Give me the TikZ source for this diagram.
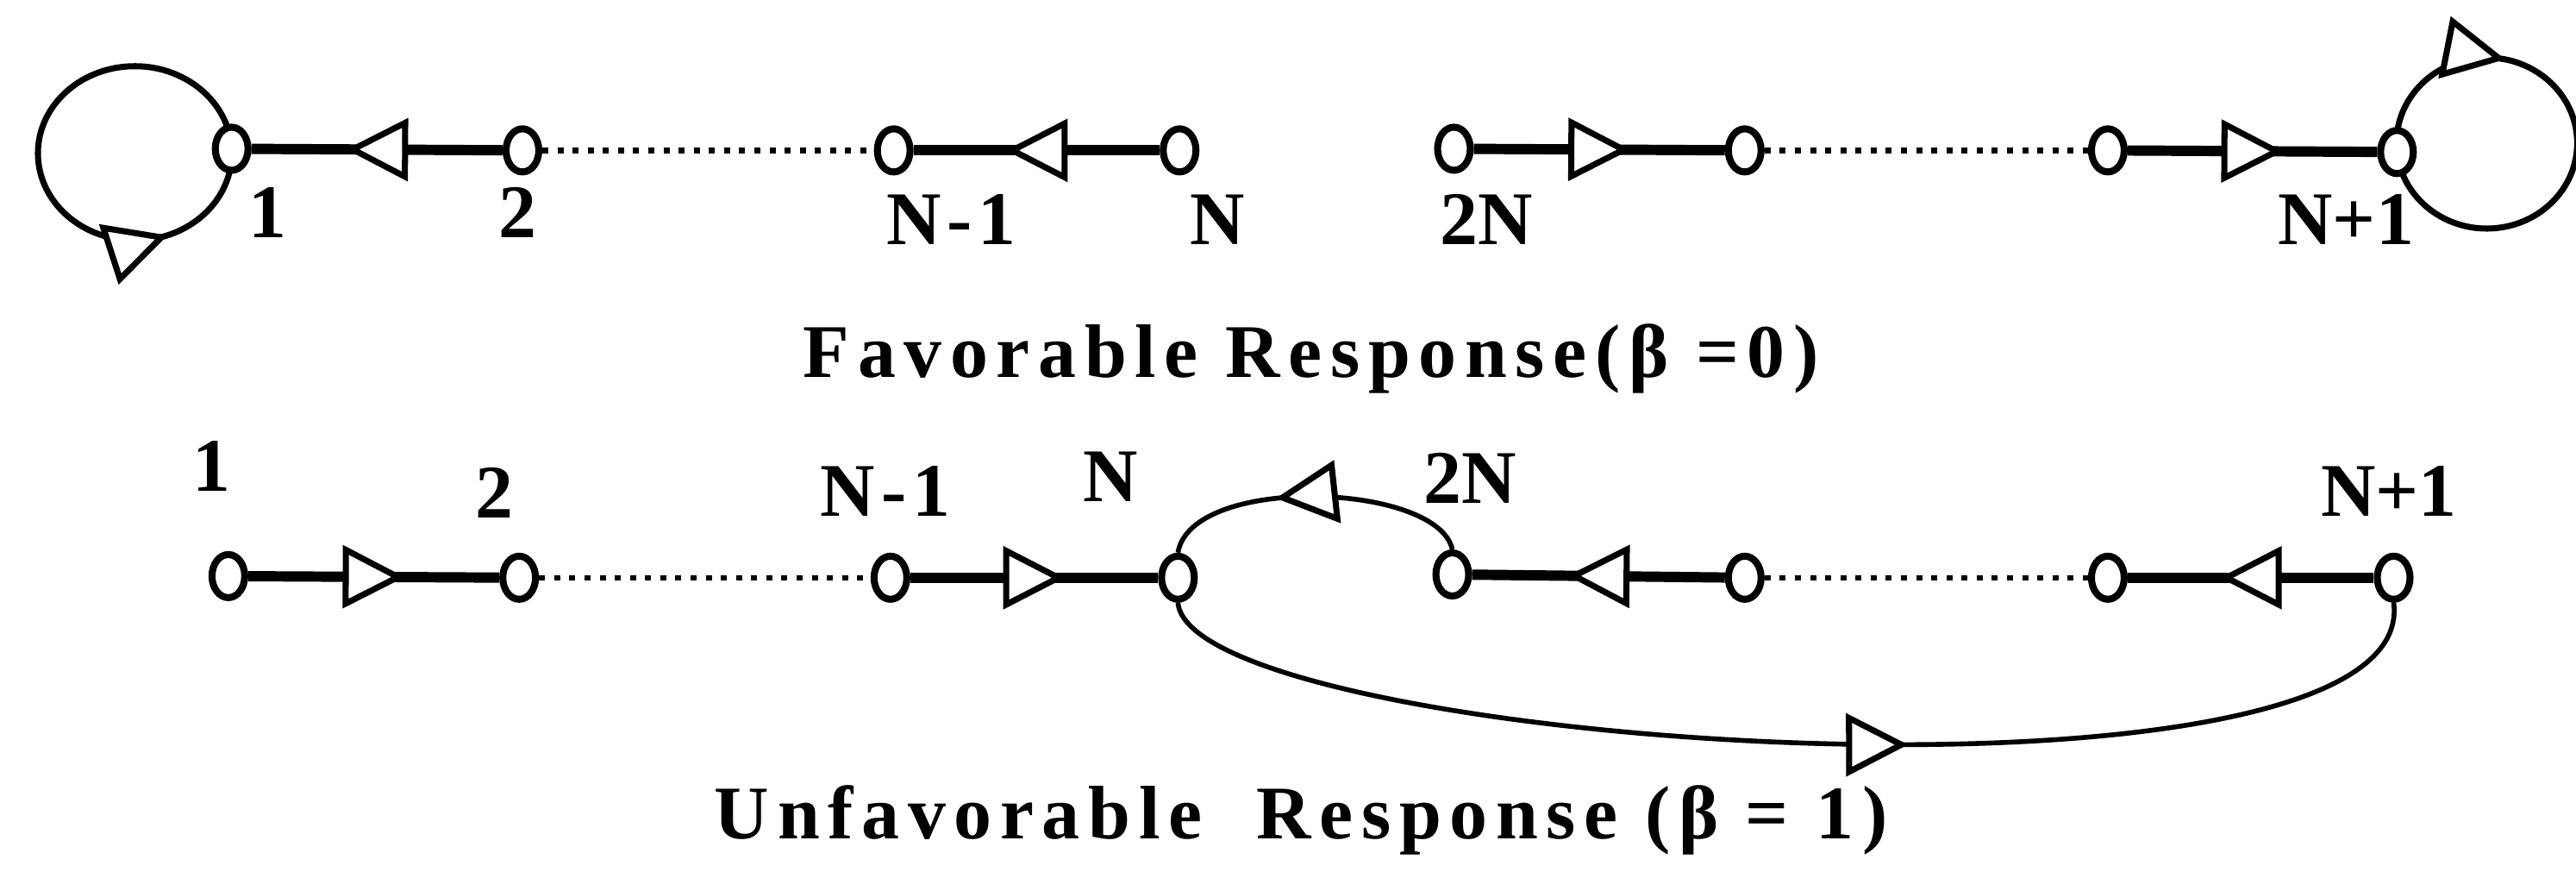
\documentclass[tikz,border=0pt]{standalone}
\usepackage{fontspec}
\setmainfont{Liberation Serif}
\newfontfamily\titlefont[LetterSpace=11]{Liberation Serif}
\usetikzlibrary{arrows.meta,decorations.markings,shapes.geometric,backgrounds}
\tikzset{opentri/.tip={Triangle[length=0.72cm,width=0.72cm,fill=white,line width=2pt]}}
\begin{document}
\begin{tikzpicture}[x=0.019056cm,y=0.019056cm,
  state/.style={ellipse,draw,line width=2.3pt,minimum width=0.38cm,minimum height=0.5cm,inner sep=0pt,fill=white},
  lbl/.style={anchor=base,inner sep=0pt,font=\fontsize{25}{25}\selectfont\bfseries},
  ttl/.style={anchor=base,inner sep=0pt,font=\titlefont\fontsize{25}{25}\selectfont\bfseries},
  edgeline/.style={line width=3.4pt},
  dotline/.style={line width=1.8pt,dash pattern=on 2pt off 3pt},
  loopline/.style={line width=2pt},
  arcline/.style={line width=1.6pt},
  midarrow/.style={postaction={decorate},decoration={markings,mark=at position 0.5 with {\pgftransformxshift{0.36cm}\arrow{opentri}}}},
  arrowat/.style={postaction={decorate},decoration={markings,mark=at position #1 with {\arrow{opentri}}}},
]
\useasboundingbox (0,0) rectangle (1568,530.5);
% top row nodes
\node[state] (t1) at (141,440) {};
\node[state] (t2) at (318,439) {};
\node[state] (tNm) at (544,439) {};
\node[state] (tN) at (718,439) {};
\node[state] (t2N) at (885,440) {};
\node[state] (ta) at (1062,439) {};
\node[state] (tb) at (1283,439) {};
\node[state] (tNp) at (1459,438) {};
% bottom row nodes
\node[state] (b1) at (139,180) {};
\node[state] (b2) at (316,179) {};
\node[state] (bNm) at (542,179) {};
\node[state] (bN) at (717,179) {};
\node[state] (b2N) at (884,181) {};
\node[state] (ba) at (1062,179) {};
\node[state] (bb) at (1283,179) {};
\node[state] (bNp) at (1457,179) {};
% top labels
\node[lbl] (lt1) at (163,386) {1};
\node[lbl] (lt2) at (315,386) {2};
\node[lbl] (ltNm) at (579,381.5) {N\kern2pt-\kern2pt1};
\node[lbl] (ltN) at (741,381.5) {N};
\node[lbl] (lt2N) at (905,381.5) {2N};
\node[lbl] (ltNp) at (1428,381.5) {N+1};
% bottom labels
\node[lbl] (lb1) at (129,231.5) {1};
\node[lbl] (lb2) at (301,215.5) {2};
\node[lbl] (lbNm) at (539,216.5) {N\kern2pt-\kern2pt1};
\node[lbl] (lbN) at (676,225.5) {N};
\node[lbl] (lb2N) at (895,224.5) {2N};
\node[lbl] (lbNp) at (1454,216.5) {N+1};
% titles
\node[ttl] (title1) at (798,300.7) {Favorable Response(β =0)};
\node[ttl] (title2) at (792,20) {Unfavorable\ \ Response (β = 1)};
\begin{scope}[on background layer]
  % top row connectors
  \draw[loopline,arrowat=0.8] (t1) arc[start angle=3,end angle=363,x radius=59,y radius=53];
  \draw[edgeline,midarrow] (t2) -- (t1);
  \draw[dotline] (t2) -- (tNm);
  \draw[edgeline,midarrow] (tN) -- (tNm);
  \draw[edgeline,midarrow] (t2N) -- (ta);
  \draw[dotline] (ta) -- (tb);
  \draw[edgeline,midarrow] (tb) -- (tNp);
  \draw[loopline,arrowat=0.3] (tNp) arc[start angle=186,end angle=-174,x radius=55,y radius=52];
  % bottom row connectors
  \draw[edgeline,midarrow] (b1) -- (b2);
  \draw[dotline] (b2) -- (bNm);
  \draw[edgeline,midarrow] (bNm) -- (bN);
  \draw[arcline,arrowat=0.62] (b2N.north) .. controls (875,237) and (725,242) .. (bN.north);
  \draw[edgeline,midarrow] (ba) -- (b2N);
  \draw[dotline] (ba) -- (bb);
  \draw[edgeline,midarrow] (bNp) -- (bb);
  \draw[arcline,arrowat=0.585] (bN.south) .. controls (725,75) and (1475,25) .. (bNp.south);
\end{scope}
\end{tikzpicture}
\end{document}
